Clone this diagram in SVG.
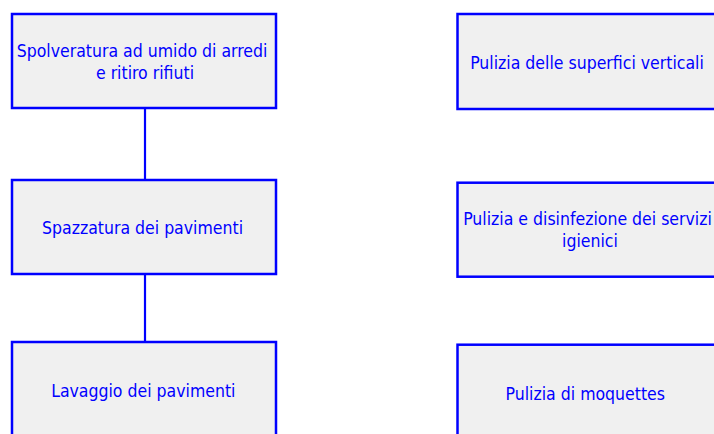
<svg xmlns="http://www.w3.org/2000/svg" width="714" height="434" viewBox="0 0 714 434">
<style>
.box{fill:#f0f0f0;stroke:#0000ff;stroke-width:2.5}
.lbl{font-family:"DejaVu Sans Condensed","DejaVu Sans",sans-serif;font-size:17.5px;fill:#0000ff;text-anchor:middle}
.conn{stroke:#0000ff;stroke-width:2.2;fill:none}
</style>
<rect width="714" height="434" fill="#ffffff"/>
<g id="connectors">
<line class="conn" x1="145" y1="108" x2="145" y2="180"/>
<line class="conn" x1="145" y1="274" x2="145" y2="342"/>
</g>
<g id="n1">
<rect class="box" x="12" y="14" width="264" height="94"/>
<text class="lbl" x="142" y="57">Spolveratura ad umido di arredi</text>
<text class="lbl" x="145" y="79">e ritiro rifiuti</text>
</g>
<g id="n2">
<rect class="box" x="12" y="180" width="264" height="94"/>
<text class="lbl" x="142.5" y="234">Spazzatura dei pavimenti</text>
</g>
<g id="n3">
<rect class="box" x="12" y="342" width="264" height="100"/>
<text class="lbl" x="143.3" y="397">Lavaggio dei pavimenti</text>
</g>
<g id="n4">
<rect class="box" x="457.5" y="14" width="264" height="95"/>
<text class="lbl" x="587" y="68.5">Pulizia delle superfici verticali</text>
</g>
<g id="n5">
<rect class="box" x="457.5" y="182.7" width="264" height="94"/>
<text class="lbl" x="587.5" y="225">Pulizia e disinfezione dei servizi</text>
<text class="lbl" x="590" y="247">igienici</text>
</g>
<g id="n6">
<rect class="box" x="457.5" y="344.7" width="264" height="100"/>
<text class="lbl" x="585.3" y="400">Pulizia di moquettes</text>
</g>
</svg>
